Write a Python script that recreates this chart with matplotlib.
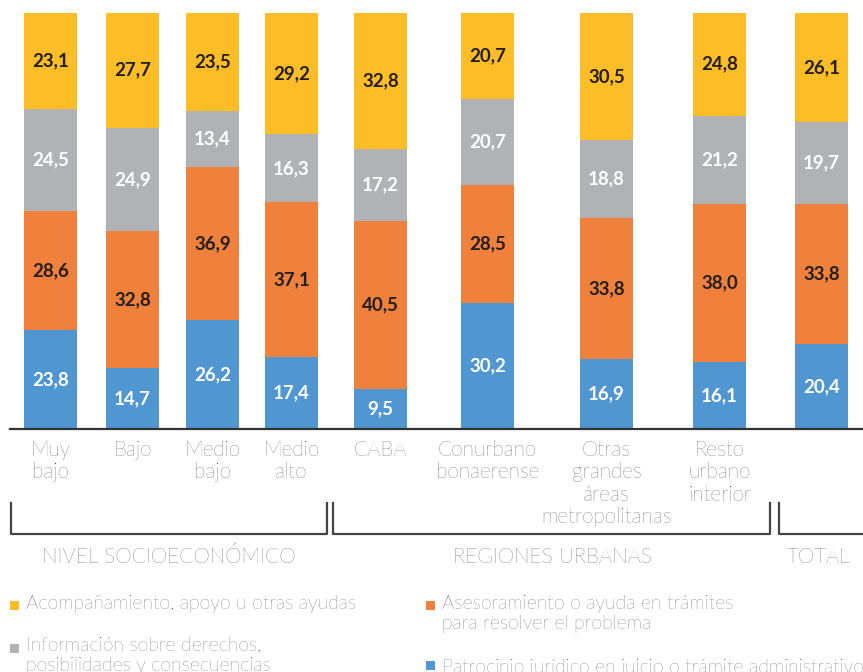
import matplotlib
matplotlib.use("Agg")
import matplotlib.pyplot as plt
from matplotlib.patches import Rectangle
from matplotlib.lines import Line2D

# ---- data ----
categories = ["Muy\nbajo", "Bajo", "Medio\nbajo", "Medio\nalto", "CABA",
              "Conurbano\nbonaerense", "Otras\ngrandes\náreas\nmetropolitanas",
              "Resto\nurbano\ninterior", ""]
patrocinio = [23.8, 14.7, 26.2, 17.4, 9.5, 30.2, 16.9, 16.1, 20.4]
asesoramiento = [28.6, 32.8, 36.9, 37.1, 40.5, 28.5, 33.8, 38.0, 33.8]
informacion = [24.5, 24.9, 13.4, 16.3, 17.2, 20.7, 18.8, 21.2, 19.7]
acompanamiento = [23.1, 27.7, 23.5, 29.2, 32.8, 20.7, 30.5, 24.8, 26.1]
series_names = ["Patrocinio jurídico en juicio o trámite administrativo",
                "Asesoramiento o ayuda en trámites\npara resolver el problema",
                "Información sobre derechos,\nposibilidades y consecuencias",
                "Acompañamiento, apoyo u otras ayudas"]
group_names = ["NIVEL SOCIOECONÓMICO", "REGIONES URBANAS", "TOTAL"]

# ---- layout / style ----
W, H = 863, 672
colors = ["#5097D1", "#F0813C", "#B1B2B6", "#FDBD27"]
label_colors = ["white", "#231F20", "white", "#231F20"]
xpos = [50.5, 132.5, 212.5, 291.5, 380.5, 487.5, 606.5, 719.5, 821.5]
bar_w = 53
LIGHT = dict(family=["Lato", "DejaVu Sans"], weight="light")
BOLD = dict(family=["Lato", "DejaVu Sans"], weight="bold")

fig = plt.figure(figsize=(W / 100, H / 100), dpi=100)
ax_bottom_px, ax_top_px = 429, 13
ax = fig.add_axes([0, (H - ax_bottom_px) / H, 1, (ax_bottom_px - ax_top_px) / H])
ax.set_xlim(0, W)
ax.set_ylim(0, 100)
ax.axis("off")

series = [patrocinio, asesoramiento, informacion, acompanamiento]
bottoms = [0.0] * len(xpos)
for vals, col, lc in zip(series, colors, label_colors):
    bars = ax.bar(xpos, vals, width=bar_w, bottom=bottoms, color=col,
                  edgecolor="none", clip_on=False)
    for b, v in zip(bars, vals):
        ax.text(b.get_x() + b.get_width() / 2, b.get_y() + b.get_height() / 2,
                f"{v:.1f}".replace(".", ","), ha="center", va="center",
                color=lc, fontsize=13.5, **BOLD)
    bottoms = [b + v for b, v in zip(bottoms, vals)]

def fx(x):
    return x / W

def fy(y):
    return 1 - y / H

# axis line
fig.add_artist(Line2D([fx(10), fx(W)], [fy(429), fy(429)], color="#333333",
                      lw=1.6, transform=fig.transFigure))

# category labels
for x, lab in zip(xpos, categories):
    if lab:
        fig.text(fx(x), fy(440), lab, ha="center", va="top",
                 fontsize=15, color="#1f1f1f", linespacing=1.15,
                 multialignment="center", **LIGHT)

# brackets
brackets = [(10.5, 327), (333, 770), (779, 870)]
for (x0, x1), name in zip(brackets, group_names):
    fig.add_artist(Line2D([fx(x0), fx(x0), fx(x1), fx(x1)],
                          [fy(503), fy(534), fy(534), fy(503)],
                          color="#444444", lw=1.6, transform=fig.transFigure))
group_centers = [168.5, 552, 818.5]
for xc, name in zip(group_centers, group_names):
    fig.text(fx(xc), fy(563), name, ha="center", va="baseline",
             fontsize=15, color="#1f1f1f", **LIGHT)

# legend
legend_items = [
    (3, 10, 594.5, 609),
    (1, 426, 594.5, 609),
    (2, 10, 636.5, 652),
    (0, 426, 658.5, 669),
]
for si, lx, top, mb in legend_items:
    fig.add_artist(Rectangle((fx(lx), fy(mb + 0.5)), 9 / W, 9 / H,
                             facecolor=colors[si], edgecolor="none",
                             transform=fig.transFigure))
    fig.text(fx(lx + 16), fy(top), series_names[si], ha="left", va="top",
             fontsize=14, color="#2e2e2e", linespacing=1.15, **LIGHT)

fig.savefig("out.png", dpi=100)
